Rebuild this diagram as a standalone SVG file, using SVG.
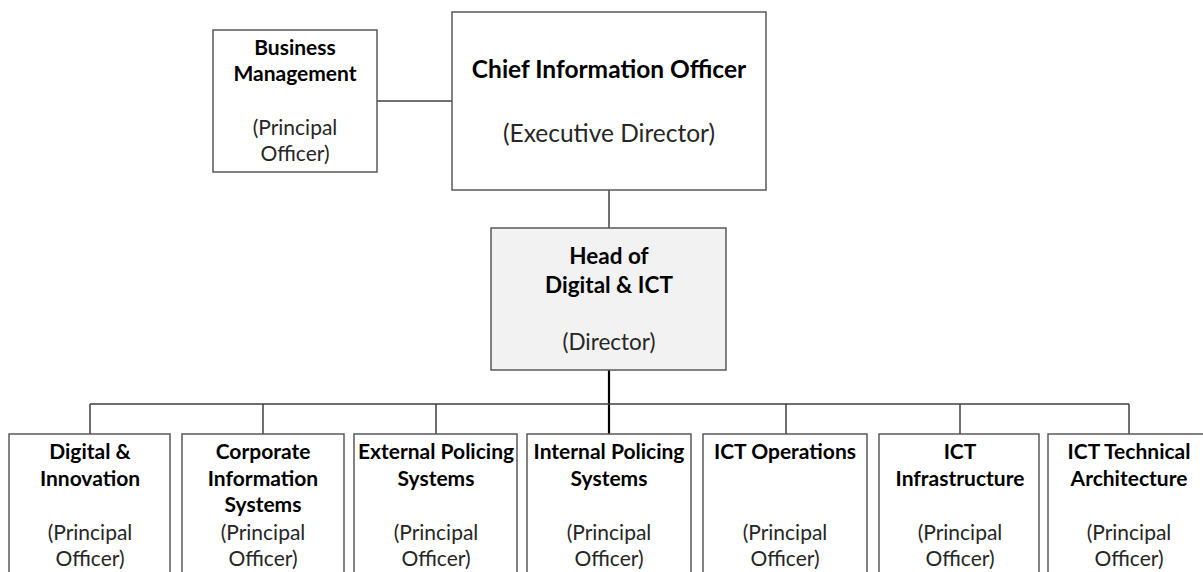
<svg xmlns="http://www.w3.org/2000/svg" width="1203" height="572" viewBox="0 0 1203 572">
<style>
.box{fill:#fff;stroke:#595959;stroke-width:1.5}
.hd{fill:#f2f2f2;stroke:#595959;stroke-width:1.5}
.ln{stroke:#404040;stroke-width:1.5;fill:none}
.lnb{stroke:#000;stroke-width:2.2;fill:none}
text{font-family:Lato,"Liberation Sans",sans-serif;text-anchor:middle}
.b{font-weight:bold;fill:#000;font-size:21px}
.r{fill:#262626;font-size:21px}
</style>
<rect width="1203" height="572" fill="#fff"/>
<g id="connectors">
<path class="ln" d="M377 101H452"/>
<path class="ln" d="M609 190V228"/>
<path class="lnb" d="M609 370V572"/>
<path class="ln" d="M90 404H1129M90 404V434M263 404V434M436 404V434M786 404V434M960 404V434M1129 404V434"/>
</g>
<g id="business-management">
<rect class="box" x="213" y="30" width="164" height="142"/>
<text class="b" x="295" y="55">Business</text>
<text class="b" x="295" y="81">Management</text>
<text class="r" x="295" y="135">(Principal</text>
<text class="r" x="295" y="161">Officer)</text>
</g>
<g id="cio">
<rect class="box" x="452" y="12" width="314" height="178"/>
<text class="b" x="609" y="78" style="font-size:24.5px">Chief Information Officer</text>
<text class="r" x="609" y="142" style="font-size:24.5px">(Executive Director)</text>
</g>
<g id="head">
<rect class="hd" x="491" y="228" width="235" height="142"/>
<text class="b" x="609" y="264" style="font-size:22.5px">Head of</text>
<text class="b" x="609" y="293" style="font-size:22.5px">Digital &amp; ICT</text>
<text class="r" x="609" y="350" style="font-size:22.5px">(Director)</text>
</g>
<g id="digital-innovation">
<rect class="box" x="9" y="434" width="161" height="150"/>
<text class="b" x="90" y="459">Digital &amp;</text>
<text class="b" x="90" y="486">Innovation</text>
<text class="r" x="90" y="540">(Principal</text>
<text class="r" x="90" y="566">Officer)</text>
</g>
<g id="corporate-is">
<rect class="box" x="182" y="434" width="162" height="150"/>
<text class="b" x="263" y="459">Corporate</text>
<text class="b" x="263" y="486">Information</text>
<text class="b" x="263" y="512">Systems</text>
<text class="r" x="263" y="540">(Principal</text>
<text class="r" x="263" y="566">Officer)</text>
</g>
<g id="external-policing">
<rect class="box" x="354" y="434" width="163" height="150"/>
<text class="b" x="436" y="459">External Policing</text>
<text class="b" x="436" y="486">Systems</text>
<text class="r" x="436" y="540">(Principal</text>
<text class="r" x="436" y="566">Officer)</text>
</g>
<g id="internal-policing">
<rect class="box" x="527" y="434" width="164" height="150"/>
<text class="b" x="609" y="459">Internal Policing</text>
<text class="b" x="609" y="486">Systems</text>
<text class="r" x="609" y="540">(Principal</text>
<text class="r" x="609" y="566">Officer)</text>
</g>
<g id="ict-operations">
<rect class="box" x="703" y="434" width="164" height="150"/>
<text class="b" x="785" y="459">ICT Operations</text>
<text class="r" x="785" y="540">(Principal</text>
<text class="r" x="785" y="566">Officer)</text>
</g>
<g id="ict-infrastructure">
<rect class="box" x="879" y="434" width="160" height="150"/>
<text class="b" x="960" y="459">ICT</text>
<text class="b" x="960" y="486">Infrastructure</text>
<text class="r" x="960" y="540">(Principal</text>
<text class="r" x="960" y="566">Officer)</text>
</g>
<g id="ict-technical-architecture">
<rect class="box" x="1048" y="434" width="163" height="150"/>
<text class="b" x="1129" y="459">ICT Technical</text>
<text class="b" x="1129" y="486">Architecture</text>
<text class="r" x="1129" y="540">(Principal</text>
<text class="r" x="1129" y="566">Officer)</text>
</g>
</svg>
